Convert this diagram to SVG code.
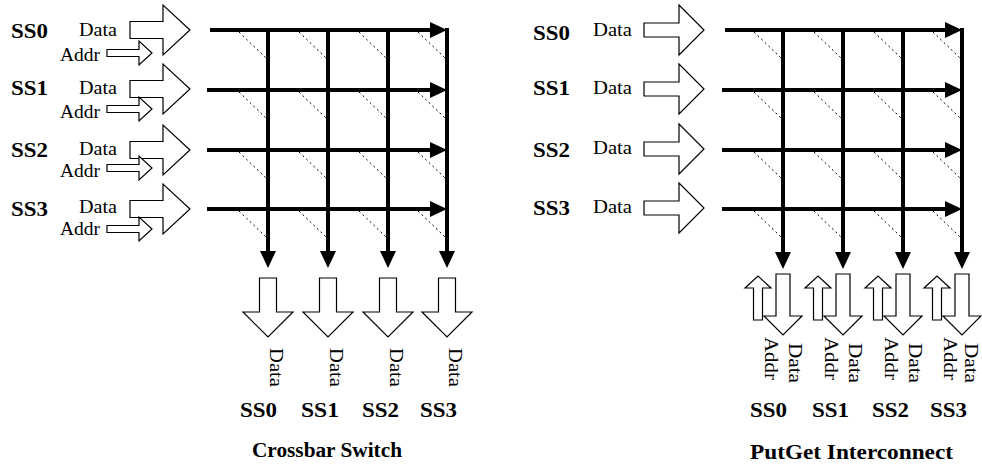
<svg xmlns="http://www.w3.org/2000/svg" width="982" height="466" viewBox="0 0 982 466">
<style>
.blk{fill:#fff;stroke:#000;stroke-width:1.2;stroke-linejoin:miter}
.bus{fill:none;stroke:#000;stroke-width:4;marker-end:url(#ah)}
.sw{fill:none;stroke:#000;stroke-width:1;stroke-dasharray:2 3}
.lbl{font-family:"Liberation Serif","Times New Roman",serif;font-size:18px;fill:#000}
.ss{font-family:"Liberation Serif","Times New Roman",serif;font-size:20px;font-weight:bold;fill:#000}
</style>
<defs>
<marker id="ah" markerUnits="userSpaceOnUse" markerWidth="17" markerHeight="16" viewBox="0 0 17 16" refX="7" refY="8" orient="auto"><path d="M0,0L17,8L0,16z" fill="#000"/></marker>
</defs>
<rect width="982" height="466" fill="#fff"/>

<!-- LEFT: Crossbar Switch -->
<g id="cb-in-ss0">
<text class="ss" x="11" y="38" textLength="37" lengthAdjust="spacingAndGlyphs">SS0</text>
<text class="lbl" x="79" y="36" textLength="38" lengthAdjust="spacingAndGlyphs">Data</text>
<text class="lbl" x="60" y="61" textLength="40" lengthAdjust="spacingAndGlyphs">Addr</text>
<polygon class="blk" points="130,21.5 163,21.5 163,5 190,30 163,55 163,38.5 130,38.5"/>
<polygon class="blk" points="107,49.5 139,49.5 139,41 152,53 139,65 139,56.5 107,56.5"/>
</g>
<g id="cb-in-ss1">
<text class="ss" x="11" y="95" textLength="37" lengthAdjust="spacingAndGlyphs">SS1</text>
<text class="lbl" x="79" y="94" textLength="38" lengthAdjust="spacingAndGlyphs">Data</text>
<text class="lbl" x="60" y="118" textLength="40" lengthAdjust="spacingAndGlyphs">Addr</text>
<polygon class="blk" points="130,80.5 163,80.5 163,64 190,89 163,114 163,97.5 130,97.5"/>
<polygon class="blk" points="107,105.5 139,105.5 139,97 152,109 139,121 139,112.5 107,112.5"/>
</g>
<g id="cb-in-ss2">
<text class="ss" x="11" y="157" textLength="37" lengthAdjust="spacingAndGlyphs">SS2</text>
<text class="lbl" x="79" y="155" textLength="38" lengthAdjust="spacingAndGlyphs">Data</text>
<text class="lbl" x="60" y="177" textLength="40" lengthAdjust="spacingAndGlyphs">Addr</text>
<polygon class="blk" points="130,141.5 163,141.5 163,125 190,150 163,175 163,158.5 130,158.5"/>
<polygon class="blk" points="107,164.5 139,164.5 139,156 152,168 139,180 139,171.5 107,171.5"/>
</g>
<g id="cb-in-ss3">
<text class="ss" x="11" y="216" textLength="37" lengthAdjust="spacingAndGlyphs">SS3</text>
<text class="lbl" x="79" y="213" textLength="38" lengthAdjust="spacingAndGlyphs">Data</text>
<text class="lbl" x="60" y="235" textLength="40" lengthAdjust="spacingAndGlyphs">Addr</text>
<polygon class="blk" points="130,200.5 163,200.5 163,184 190,209 163,234 163,217.5 130,217.5"/>
<polygon class="blk" points="107,225.5 139,225.5 139,217 152,229 139,241 139,232.5 107,232.5"/>
</g>

<g id="cb-out-ss0">
<polygon class="blk" points="259.5,278 276.5,278 276.5,312 293,312 268,337 243,312 259.5,312"/>
<text class="lbl" transform="translate(270,348) rotate(90)" textLength="39" lengthAdjust="spacingAndGlyphs">Data</text>
<text class="ss" x="240" y="417" textLength="37" lengthAdjust="spacingAndGlyphs">SS0</text>
</g>
<g id="cb-out-ss1">
<polygon class="blk" points="319.5,278 336.5,278 336.5,312 353,312 328,337 303,312 319.5,312"/>
<text class="lbl" transform="translate(330,348) rotate(90)" textLength="39" lengthAdjust="spacingAndGlyphs">Data</text>
<text class="ss" x="301" y="417" textLength="38" lengthAdjust="spacingAndGlyphs">SS1</text>
</g>
<g id="cb-out-ss2">
<polygon class="blk" points="379.5,278 396.5,278 396.5,312 413,312 388,337 363,312 379.5,312"/>
<text class="lbl" transform="translate(390,348) rotate(90)" textLength="39" lengthAdjust="spacingAndGlyphs">Data</text>
<text class="ss" x="362" y="417" textLength="37" lengthAdjust="spacingAndGlyphs">SS2</text>
</g>
<g id="cb-out-ss3">
<polygon class="blk" points="438.5,278 455.5,278 455.5,312 472,312 447,337 422,312 438.5,312"/>
<text class="lbl" transform="translate(449,348) rotate(90)" textLength="39" lengthAdjust="spacingAndGlyphs">Data</text>
<text class="ss" x="420" y="417" textLength="37" lengthAdjust="spacingAndGlyphs">SS3</text>
</g>
<g id="cb-title">
<text class="ss" x="252" y="457" textLength="150" lengthAdjust="spacingAndGlyphs">Crossbar Switch</text>
</g>

<g id="cb-connectors">
<path class="bus" d="M210,30H437"/>
<path class="bus" d="M207,90H437"/>
<path class="bus" d="M207,150H437"/>
<path class="bus" d="M207,209H437"/>
<path class="bus" d="M268,30V258"/>
<path class="bus" d="M328,30V258"/>
<path class="bus" d="M388,30V258"/>
<path class="bus" d="M447,28V258"/>
<path class="sw" d="M239,32L266,58M299,32L326,58M359,32L386,58M418,32L445,58"/>
<path class="sw" d="M239,92L266,118M299,92L326,118M359,92L386,118M418,92L445,118"/>
<path class="sw" d="M239,152L266,178M299,152L326,178M359,152L386,178M418,152L445,178"/>
<path class="sw" d="M239,211L266,237M299,211L326,237M359,211L386,237M418,211L445,237"/>
</g>

<!-- RIGHT: PutGet Interconnect -->
<g id="pg-in-ss0">
<text class="ss" x="533" y="40" textLength="37" lengthAdjust="spacingAndGlyphs">SS0</text>
<text class="lbl" x="593" y="36" textLength="39" lengthAdjust="spacingAndGlyphs">Data</text>
<polygon class="blk" points="644,23 679,23 679,5 704,30 679,55 679,37 644,37"/>
</g>
<g id="pg-in-ss1">
<text class="ss" x="533" y="95" textLength="37" lengthAdjust="spacingAndGlyphs">SS1</text>
<text class="lbl" x="593" y="94" textLength="39" lengthAdjust="spacingAndGlyphs">Data</text>
<polygon class="blk" points="644,82 679,82 679,64 704,89 679,114 679,96 644,96"/>
</g>
<g id="pg-in-ss2">
<text class="ss" x="533" y="157" textLength="37" lengthAdjust="spacingAndGlyphs">SS2</text>
<text class="lbl" x="593" y="154" textLength="39" lengthAdjust="spacingAndGlyphs">Data</text>
<polygon class="blk" points="644,142 679,142 679,124 704,149 679,174 679,156 644,156"/>
</g>
<g id="pg-in-ss3">
<text class="ss" x="533" y="215" textLength="37" lengthAdjust="spacingAndGlyphs">SS3</text>
<text class="lbl" x="593" y="213" textLength="39" lengthAdjust="spacingAndGlyphs">Data</text>
<polygon class="blk" points="644,201 679,201 679,183 704,208 679,233 679,215 644,215"/>
</g>

<g id="pg-out-ss0">
<polygon class="blk" points="753.5,320 762.5,320 762.5,288 771,288 758,276 745,288 753.5,288"/>
<polygon class="blk" points="776,274 790,274 790,316 802,316 783,335 764,316 776,316"/>
<text class="lbl" transform="translate(765,337) rotate(90)" textLength="43" lengthAdjust="spacingAndGlyphs">Addr</text>
<text class="lbl" transform="translate(789,343) rotate(90)" textLength="40" lengthAdjust="spacingAndGlyphs">Data</text>
<text class="ss" x="750" y="417" textLength="37" lengthAdjust="spacingAndGlyphs">SS0</text>
</g>
<g id="pg-out-ss1">
<polygon class="blk" points="813.5,320 822.5,320 822.5,288 831,288 818,276 805,288 813.5,288"/>
<polygon class="blk" points="836,274 850,274 850,316 862,316 843,335 824,316 836,316"/>
<text class="lbl" transform="translate(825,337) rotate(90)" textLength="43" lengthAdjust="spacingAndGlyphs">Addr</text>
<text class="lbl" transform="translate(849,343) rotate(90)" textLength="40" lengthAdjust="spacingAndGlyphs">Data</text>
<text class="ss" x="812" y="417" textLength="37" lengthAdjust="spacingAndGlyphs">SS1</text>
</g>
<g id="pg-out-ss2">
<polygon class="blk" points="873.5,320 882.5,320 882.5,288 891,288 878,276 865,288 873.5,288"/>
<polygon class="blk" points="896,274 910,274 910,316 922,316 903,335 884,316 896,316"/>
<text class="lbl" transform="translate(885,337) rotate(90)" textLength="43" lengthAdjust="spacingAndGlyphs">Addr</text>
<text class="lbl" transform="translate(909,343) rotate(90)" textLength="40" lengthAdjust="spacingAndGlyphs">Data</text>
<text class="ss" x="872" y="417" textLength="37" lengthAdjust="spacingAndGlyphs">SS2</text>
</g>
<g id="pg-out-ss3">
<polygon class="blk" points="932.5,320 941.5,320 941.5,288 950,288 937,276 924,288 932.5,288"/>
<polygon class="blk" points="955,274 969,274 969,316 981,316 962,335 943,316 955,316"/>
<text class="lbl" transform="translate(944,337) rotate(90)" textLength="43" lengthAdjust="spacingAndGlyphs">Addr</text>
<text class="lbl" transform="translate(965,343) rotate(90)" textLength="40" lengthAdjust="spacingAndGlyphs">Data</text>
<text class="ss" x="930" y="417" textLength="37" lengthAdjust="spacingAndGlyphs">SS3</text>
</g>
<g id="pg-title">
<text class="ss" x="750" y="459" textLength="203" lengthAdjust="spacingAndGlyphs">PutGet Interconnect</text>
</g>

<g id="pg-connectors">
<path class="bus" d="M725,30H952"/>
<path class="bus" d="M722,90H952"/>
<path class="bus" d="M722,150H952"/>
<path class="bus" d="M722,209H952"/>
<path class="bus" d="M783,30V259"/>
<path class="bus" d="M843,30V259"/>
<path class="bus" d="M903,30V259"/>
<path class="bus" d="M962,28V259"/>
<path class="sw" d="M754,32L781,58M814,32L841,58M874,32L901,58M933,32L960,58"/>
<path class="sw" d="M754,92L781,118M814,92L841,118M874,92L901,118M933,92L960,118"/>
<path class="sw" d="M754,152L781,178M814,152L841,178M874,152L901,178M933,152L960,178"/>
<path class="sw" d="M754,211L781,237M814,211L841,237M874,211L901,237M933,211L960,237"/>
</g>
</svg>
